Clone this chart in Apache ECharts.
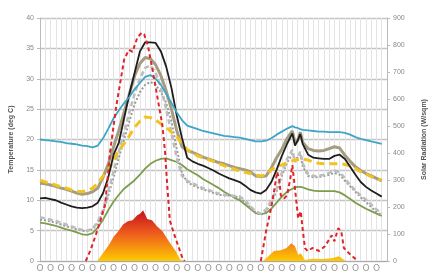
<!DOCTYPE html>
<html lang="en">
<head>
<meta charset="UTF-8">
<title>Temperature and solar radiation</title>
<script src="https://cdn.jsdelivr.net/npm/echarts@6/dist/echarts.min.js"></script>
</head>
<body style="margin:0;background:#fff">
<div id="chart" style="width:436px;height:273px"></div>
<script>
// time steps (x axis units); extra half steps around the second-day peak
var hours = [0,1,2,3,4,5,6,7,8,9,10,11,12,13,14,15,16,17,18,19,20,21,22,23,24,25,26,27,28,29,
  30,31,32,33,34,35,36,37,38,39,40,41,42,43,44,45,46,47,48,48.5,49,49.5,50,51,
  52,53,54,55,56,57,58,59,60,61,62,63,64,65];
var xLabels = 'O';

var teal = [20.0,19.9,19.8,19.7,19.6,19.4,19.3,19.2,19.0,18.9,18.7,19.0,
  20.2,21.8,23.5,24.8,26.0,27.0,28.3,29.3,30.3,30.6,30.0,29.0,27.5,26.0,24.5,23.2,22.3,22.0,
  21.7,21.4,21.2,21.0,20.8,20.6,20.5,20.4,20.3,20.1,19.9,19.7,19.7,19.8,20.2,20.8,21.3,21.8,
  22.2,22.0,21.9,21.7,21.6,21.5,
  21.4,21.3,21.3,21.2,21.2,21.2,21.1,20.8,20.4,20.1,19.9,19.7,19.5,19.3];
var black = [10.3,10.4,10.2,10.0,9.6,9.3,9.0,8.8,8.7,8.8,9.0,9.6,
  11.2,13.8,17.5,19.5,23.5,27.5,31.0,34.5,36.0,36.0,35.9,34.5,32.0,28.5,24.0,20.3,17.0,16.4,
  16.0,15.7,15.3,14.9,14.4,14.0,13.6,13.3,13.0,12.4,11.7,11.3,11.1,11.7,13.0,15.0,17.3,19.3,
  21.0,19.0,19.8,20.9,19.2,17.5,
  17.0,16.9,16.8,16.8,17.3,17.5,16.8,15.5,14.2,13.0,12.2,11.6,11.1,10.6];
var tan = [12.8,12.7,12.5,12.3,12.0,11.8,11.5,11.2,11.0,11.1,11.4,12.0,
  13.8,16.0,18.8,21.5,24.5,27.5,30.5,32.5,33.5,33.3,32.3,30.5,28.0,25.0,21.5,18.8,18.2,17.9,
  17.5,17.1,16.8,16.5,16.2,16.0,15.7,15.4,15.2,15.0,14.7,14.0,13.9,14.0,15.3,17.0,18.4,20.2,
  21.4,19.5,19.8,21.2,19.5,18.5,
  18.2,18.1,18.2,18.5,18.8,18.6,17.4,16.4,15.5,14.9,14.4,14.0,13.6,13.2];
var yellow = [13.3,13.0,12.8,12.5,12.2,12.0,11.7,11.5,11.4,11.6,12.0,12.8,
  14.0,14.9,16.5,18.3,19.3,20.6,22.0,23.0,23.7,23.6,23.2,22.6,22.0,21.2,20.5,19.3,18.3,17.8,
  17.3,17.0,16.7,16.4,16.0,15.7,15.4,15.1,14.8,14.6,14.4,14.2,14.0,14.2,15.0,15.6,15.8,16.2,
  16.5,16.6,16.7,16.8,16.8,16.6,
  16.3,16.1,16.0,16.0,16.0,16.0,15.9,15.6,15.2,14.7,14.3,13.9,13.6,13.3];
var greyDash = [7.2,7.0,6.8,6.6,6.3,6.0,5.7,5.4,5.1,5.0,5.3,6.5,
  8.5,11.5,14.8,18.0,21.2,24.5,27.5,30.0,31.8,32.2,31.0,28.5,25.0,21.0,17.0,14.0,13.2,12.8,
  12.4,12.0,11.7,11.4,11.1,10.9,10.8,10.7,10.6,10.0,9.0,8.2,7.8,8.5,10.0,11.9,14.5,16.8,
  18.3,16.3,17.0,18.0,16.0,14.3,
  14.0,14.0,14.2,14.5,14.9,14.6,13.6,12.5,11.6,10.8,10.1,9.3,8.5,7.8];
var greyDot = [6.8,6.7,6.5,6.3,6.0,5.7,5.5,5.2,5.0,4.9,5.2,6.2,
  8.0,10.8,13.8,17.0,20.0,23.0,25.8,27.8,29.0,29.5,29.0,27.8,26.0,23.0,18.5,14.5,13.0,12.5,
  12.1,11.8,11.5,11.2,10.9,10.8,10.8,10.7,10.3,9.7,8.8,8.0,7.6,8.2,9.6,11.5,14.0,16.2,
  17.6,16.8,17.0,17.5,15.5,14.0,
  13.8,13.8,14.0,14.2,14.5,14.2,13.2,12.3,11.4,10.5,9.7,8.9,8.1,7.5];
var green = [6.3,6.2,6.0,5.8,5.5,5.2,5.0,4.7,4.4,4.3,4.6,5.5,
  6.8,8.4,9.8,10.9,11.9,12.6,13.3,14.2,15.2,16.0,16.5,16.8,16.9,16.6,16.3,15.8,15.1,14.6,
  14.1,13.5,13.0,12.5,12.0,11.4,10.9,10.4,10.0,9.3,8.6,7.9,7.7,7.9,8.6,9.6,10.6,11.4,
  11.9,12.1,12.2,12.2,12.1,11.8,
  11.6,11.5,11.5,11.5,11.5,11.3,10.8,10.2,9.6,9.1,8.6,8.2,7.8,7.4];

// solar radiation (right axis), own time steps
var solarT = [8.7,9.6,10.5,11.5,12.4,13.3,14.5,16.0,16.9,17.6,18.5,19.3,19.8,20.5,21.5,22.4,23.3,23.8,24.2,24.7,25.5,26.4,27.1,27.5,
  34,
  42.0,43.0,44.0,44.6,45.1,45.5,45.8,46.4,47.0,47.6,48.0,48.5,49.1,49.6,50.0,50.4,50.9,51.8,53.1,54.2,55.5,56.0,56.7,57.3,57.8,59.1,60.5];
var solarV = [0,40,90,150,210,400,573,746,782,775,827,845,840,800,698,599,500,400,280,150,100,50,10,0,
  null,
  0,110,200,268,330,305,243,231,243,305,355,268,158,184,110,48,37,48,37,55,95,73,121,110,48,22,0];

// gradient area (right axis)
var areaT = [10.9,12.0,13.1,14.0,14.9,15.8,16.7,17.6,18.5,19.1,19.6,20.0,20.4,21.3,22.2,23.3,24.5,25.8,26.7,27.3,
  34,
  42.4,43.3,44.5,45.8,46.9,47.8,48.5,49.1,49.6,50.4,51.8,53.6,55.5,56.9,57.8,58.2];
var areaV = [0,30,59,90,110,135,147,151,169,176,188,172,156,151,130,110,73,37,5,0,
  null,
  0,15,37,40,48,66,55,22,29,4,8,7,10,18,5,0];

function zip(xs, ys) {
  return xs.map(function (x, i) { return [x, ys[i] == null ? '-' : ys[i]]; });
}

var chart = echarts.init(document.getElementById('chart'));

function line(name, vals, color, width, type) {
  return {
    name: name, type: 'line', data: zip(hours, vals), symbol: 'none',
    lineStyle: { color: color, width: width, type: type || 'solid' }, z: 3
  };
}

var option = {
  animation: false,
  backgroundColor: '#fff',
  grid: { left: 35, right: 38, top: 18, bottom: 10 },
  xAxis: {
    type: 'value', min: 0, max: 66, interval: 1,
    axisLine: { lineStyle: { color: '#aaa' } },
    axisTick: { show: false },
    axisLabel: {
      margin: 3, fontSize: 9, color: '#999', fontFamily: 'DejaVu Sans',
      formatter: function (v) { return (v % 2 === 0 && v < 66) ? xLabels : ''; }
    },
    splitLine: { show: true, lineStyle: { color: '#e4e4e4', width: 1 } }
  },
  yAxis: [
    {
      type: 'value', min: 0, max: 40, interval: 5,
      name: 'Temperature (deg C)', nameLocation: 'middle', nameGap: 25, nameRotate: 90,
      nameTextStyle: { fontSize: 7, fontWeight: 'bold', color: '#555' },
      axisLine: { show: true, lineStyle: { color: '#bbb' } },
      axisTick: { show: true, length: 3, lineStyle: { color: '#bbb' } },
      axisLabel: { fontSize: 7, color: '#888', margin: 6 },
      splitLine: { lineStyle: { color: '#c4c4c4', width: 1.3 } }
    },
    {
      type: 'value', min: 0, max: 900, interval: 100,
      name: 'Solar Radiation (W/sqm)', nameLocation: 'middle', nameGap: 34, nameRotate: 90,
      nameTextStyle: { fontSize: 7, fontWeight: 'bold', color: '#555' },
      axisLine: { show: true, lineStyle: { color: '#bbb' } },
      axisTick: { show: true, length: 3, lineStyle: { color: '#bbb' } },
      axisLabel: { fontSize: 7, color: '#888', margin: 6 },
      splitLine: { show: false }
    }
  ],
  series: [
    {
      name: 'Area', type: 'line', yAxisIndex: 1, data: zip(areaT, areaV), symbol: 'none',
      lineStyle: { width: 0 }, z: 1,
      areaStyle: {
        opacity: 1,
        color: new echarts.graphic.LinearGradient(0, 213, 0, 263, [
          { offset: 0, color: '#c81a1c' },
          { offset: 0.4, color: '#ee5a1e' },
          { offset: 1, color: '#ffd200' }
        ], true)
      }
    },
    line('Green', green, '#7d9c4c', 1.8),
    line('Grey dotted', greyDot, '#9a9a9a', 2, [2, 2]),
    line('Grey dashed', greyDash, '#bdbdbd', 2.5, [5, 3]),
    line('Tan', tan, '#a59d82', 3),
    line('Yellow', yellow, '#f2c21e', 3, [8, 5]),
    line('Black', black, '#1e1e1e', 1.8),
    line('Teal', teal, '#3fa5c6', 1.8),
    {
      name: 'Solar', type: 'line', yAxisIndex: 1, data: zip(solarT, solarV), symbol: 'none',
      lineStyle: { color: '#e0242a', width: 2, type: [4, 3] }, z: 4
    }
  ]
};
chart.setOption(option);
</script>
</body>
</html>
